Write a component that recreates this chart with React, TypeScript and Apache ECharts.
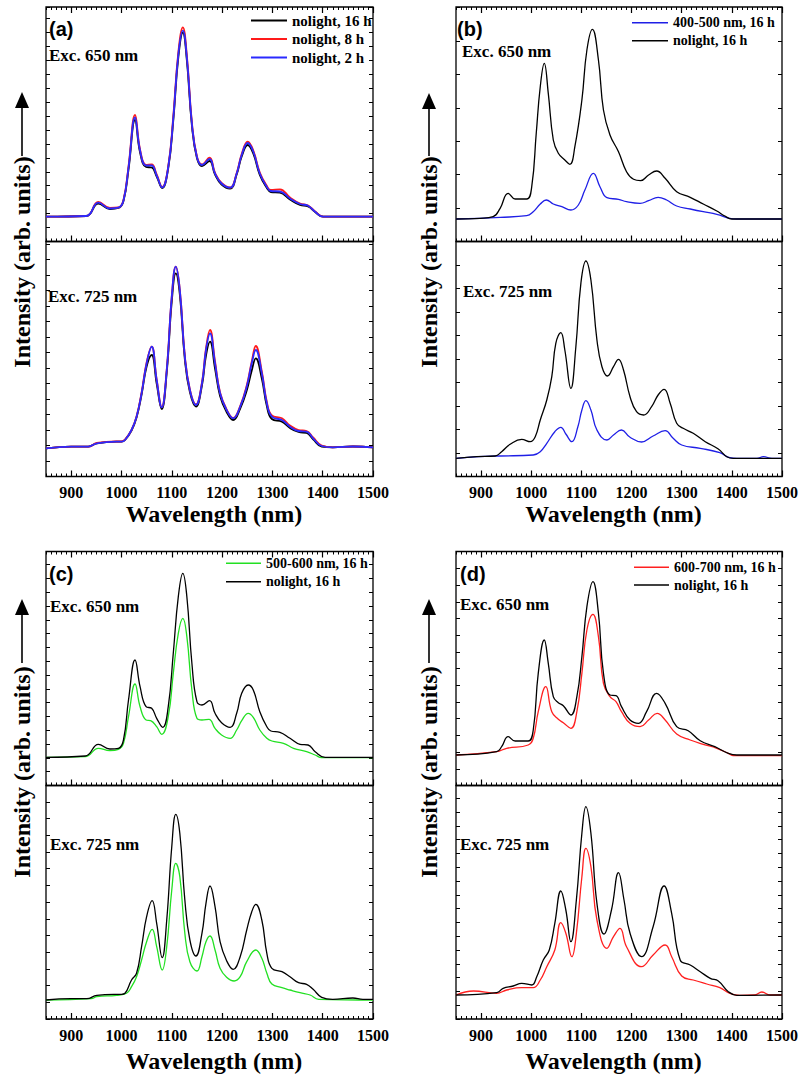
import React, { useEffect, useRef } from "react";
import * as echarts from "echarts";

const SERIF = "Liberation Serif, Times New Roman, serif";
const SANS = "Liberation Sans, Arial, sans-serif";

const X_MIN = 850;
const X_MAX = 1500;
const xTickLabels = [900, 1000, 1100, 1200, 1300, 1400, 1500];

const NOLIGHT16 = "nolight, 16 h";
const NOLIGHT8 = "nolight, 8 h";
const NOLIGHT2 = "nolight, 2 h";
const BLUE_LIGHT = "400-500 nm, 16 h";
const GREEN_LIGHT = "500-600 nm, 16 h";
const RED_LIGHT = "600-700 nm, 16 h";

// ---------- Panel (a) : Exc. 650 nm ----------
const aWl650 = [850, 930, 954, 977, 994, 1004, 1014, 1027, 1037, 1049, 1060, 1070, 1081, 1093, 1103, 1113, 1122, 1130, 1140, 1150, 1160, 1175, 1186, 1199, 1216, 1229, 1239, 1251, 1262, 1275, 1289, 1297, 1315, 1335, 1355, 1371, 1385, 1401, 1450, 1500];
const a650Nolight16 = [24.8, 25.5, 38, 32.5, 33.5, 40.5, 72, 121.5, 89, 74.5, 74, 65, 53.5, 73.5, 121, 184, 208.8, 181, 116, 83.5, 75.5, 80.5, 67, 57, 53, 67, 85, 96.5, 88, 66.5, 53.5, 49.5, 48.8, 42, 36.5, 35, 29.5, 24.8, 24.8, 24.8];
const a650Nolight8 = [24.8, 25.5, 39.5, 33.5, 34, 41.5, 75, 126.5, 92, 76.5, 77, 67, 54.5, 75, 125, 189, 214.2, 186, 119, 85, 77, 83.8, 68.5, 58.5, 54, 68.5, 87.5, 99.8, 91, 69, 55.5, 51.5, 52.2, 44, 38, 36, 30, 24.8, 24.8, 24.8];
const a650Nolight2 = [24.8, 25.5, 38.8, 33, 33.8, 41, 74, 124, 91, 76, 76, 66, 54, 74.5, 123, 187, 210.8, 184, 118, 84.5, 76.5, 82.5, 68, 58, 53.8, 68, 86.5, 98.5, 90, 68, 54.5, 50.5, 50, 43, 37.5, 35.8, 29.8, 24.8, 24.8, 24.8];

// ---------- Panel (a) : Exc. 725 nm ----------
const aWl725 = [850, 900, 934, 951, 990, 1000, 1007, 1020, 1030, 1040, 1050, 1060, 1070, 1080, 1090, 1100, 1108, 1116, 1126, 1136, 1148, 1160, 1168, 1176, 1186, 1196, 1209, 1222, 1236, 1249, 1259, 1267, 1279, 1289, 1299, 1319, 1335, 1352, 1368, 1381, 1398, 1420, 1460, 1500];
const a725Nolight16 = [28.2, 29.8, 29.8, 33.2, 34.8, 34.8, 36.5, 46, 59, 82, 110, 121.5, 93, 67.5, 104, 175, 203.2, 182, 117, 84.5, 70, 91, 121, 134.8, 108, 80.5, 64.5, 56.5, 68, 86, 106, 118.2, 98, 70.5, 57.5, 54.8, 48.5, 44.5, 43.5, 37.2, 30, 29.2, 30, 29.2];
const a725Nolight8 = [28.2, 29.8, 29.8, 33.5, 35, 35, 36.8, 46.5, 60, 84, 114, 129.8, 97, 69.5, 107, 180, 209.8, 187, 120.5, 87, 72, 94, 128, 146.5, 115, 84, 67, 58.5, 70.5, 91, 115, 130.5, 105, 74.5, 61, 58.2, 51, 46.5, 45.5, 39, 31, 29.2, 30, 29.2];
const a725Nolight2 = [28.2, 29.8, 29.8, 33.2, 34.8, 34.8, 36.5, 46.5, 59.8, 83.2, 113, 129.8, 96.5, 69.2, 106.5, 179.8, 209.8, 186.5, 119.8, 86.5, 71.5, 93.2, 126.5, 143.2, 113.2, 83.2, 66.5, 58.2, 69.8, 89.8, 113.2, 126.5, 103.2, 73.2, 59.8, 56.5, 49.8, 45.5, 44.8, 38.2, 30.5, 29.2, 30, 29.2];

// ---------- Panel (b) ----------
const b650Nolight16 = [[850, 22.5], [898, 23.2], [924, 24.8], [938, 33.2], [954, 48.2], [968, 42.5], [991, 42.5], [1001, 54.8], [1010, 108.2], [1018, 154.8], [1026, 178.2], [1034, 148.2], [1044, 101.5], [1054, 88.2], [1067, 81.5], [1077, 77.2], [1087, 94.8], [1101, 141.5], [1111, 191.5], [1122, 212.2], [1134, 181.5], [1144, 131.5], [1157, 106.5], [1174, 89.8], [1190, 69.8], [1204, 62.2], [1218, 60.8], [1234, 66.5], [1250, 70.5], [1267, 63.2], [1290, 49.8], [1317, 44.2], [1343, 37.5], [1370, 30.5], [1386, 25.5], [1400, 22.5], [1500, 22.5]];
const b650Blue = [[850, 22.5], [938, 24.2], [991, 25.8], [1004, 29.8], [1018, 37.5], [1030, 41.5], [1044, 37.5], [1061, 34.8], [1079, 31.5], [1094, 36.5], [1107, 51.5], [1124, 68.2], [1137, 54.8], [1151, 43.8], [1174, 42.2], [1190, 39.8], [1217, 38.2], [1234, 40.8], [1253, 44.2], [1270, 41.5], [1290, 35.5], [1317, 32.5], [1343, 29.8], [1370, 27.2], [1396, 23.2], [1410, 22.5], [1500, 22.5]];
const b725Nolight16 = [[850, 18.2], [891, 19.8], [928, 20.5], [941, 24.8], [958, 32.2], [981, 37.2], [998, 34.8], [1008, 39.8], [1018, 56.5], [1031, 76.5], [1041, 99.8], [1049, 133.2], [1059, 143.8], [1067, 126.5], [1079, 88.2], [1089, 129.8], [1099, 193.2], [1109, 215.5], [1119, 196.5], [1131, 136.5], [1141, 109.8], [1152, 100.5], [1164, 109.8], [1174, 117.2], [1184, 106.5], [1197, 79.8], [1210, 64.8], [1224, 61.5], [1240, 69.8], [1253, 81.5], [1265, 87.2], [1277, 73.2], [1290, 53.2], [1303, 48.2], [1323, 43.2], [1347, 34.8], [1373, 27.5], [1390, 19.8], [1403, 18.2], [1500, 18.2]];
const b725Blue = [[850, 18.2], [895, 19.8], [938, 20.5], [1004, 21.5], [1018, 24.8], [1031, 33.2], [1047, 44.8], [1059, 49.2], [1069, 42.5], [1081, 34.8], [1093, 49.8], [1101, 66.5], [1109, 75.8], [1119, 66.5], [1131, 46.5], [1151, 36.5], [1164, 41.5], [1180, 46.5], [1197, 39.2], [1220, 34.5], [1243, 40.5], [1267, 45.8], [1283, 38.2], [1300, 31.5], [1337, 28.2], [1376, 23.8], [1396, 18.8], [1410, 18.2], [1450, 18.2], [1463, 19.8], [1480, 18.2], [1500, 18.2]];

// ---------- Panel (c) ----------
const c650Nolight16 = [[850, 28.2], [928, 29.5], [954, 41.2], [977, 36.5], [994, 37.2], [1004, 45.5], [1014, 85.5], [1027, 125.5], [1037, 98.8], [1049, 78.8], [1060, 77.2], [1070, 67.2], [1082, 58.2], [1093, 78.8], [1103, 132.2], [1113, 188.8], [1122, 212.2], [1130, 188.8], [1140, 122.2], [1150, 83.8], [1160, 80.5], [1175, 84.8], [1186, 72.2], [1199, 62.8], [1216, 58.2], [1229, 72.2], [1239, 92.2], [1252, 100.5], [1262, 95.5], [1275, 73.8], [1289, 58.8], [1297, 54.5], [1315, 53.2], [1335, 47.2], [1355, 41.2], [1371, 40.5], [1385, 33.8], [1405, 28.2], [1500, 28.2]];
const c650Green = [[850, 28.2], [928, 28.8], [954, 37.2], [977, 34.8], [994, 36.2], [1004, 42.2], [1014, 68.8], [1027, 101.5], [1037, 78.8], [1049, 65.5], [1058, 64.8], [1070, 58.8], [1080, 51.2], [1093, 68.8], [1103, 112.2], [1113, 152.2], [1122, 167.2], [1130, 148.8], [1140, 95.5], [1150, 67.2], [1160, 65.5], [1174, 66.2], [1186, 57.2], [1199, 50.5], [1216, 47.2], [1229, 55.5], [1239, 64.8], [1252, 72.2], [1262, 68.2], [1275, 55.5], [1289, 47.2], [1299, 44.5], [1322, 42.2], [1342, 37.2], [1368, 33.8], [1385, 30.5], [1398, 27.8], [1500, 27.8]];
const c725Nolight16 = [[850, 19], [900, 20.3], [931, 20.3], [951, 23.7], [985, 24.7], [1000, 24.7], [1007, 25.7], [1020, 39], [1030, 45.7], [1040, 72.3], [1050, 102.3], [1061, 118.3], [1070, 95.7], [1081, 61.3], [1090, 99], [1100, 172.3], [1108, 204.7], [1116, 185.7], [1126, 119], [1136, 79], [1148, 63], [1160, 85.7], [1168, 115.7], [1176, 133], [1186, 112.3], [1196, 77.3], [1209, 58.3], [1222, 49.7], [1236, 62.3], [1249, 89], [1259, 107.3], [1267, 114.7], [1279, 99], [1289, 65.7], [1299, 50.7], [1319, 47.3], [1335, 42.3], [1352, 36.3], [1368, 34.7], [1381, 29.7], [1398, 21.7], [1420, 19.7], [1460, 21], [1480, 19.7], [1500, 19.7]];
const c725Green = [[850, 19], [940, 20.3], [951, 22.3], [990, 23.7], [1010, 25.7], [1020, 32.3], [1030, 42.3], [1040, 59], [1050, 77.3], [1061, 89.7], [1070, 72.3], [1081, 49], [1090, 72.3], [1100, 129], [1108, 155.7], [1116, 142.3], [1126, 85.7], [1136, 57.3], [1150, 48], [1160, 62.3], [1168, 77.3], [1176, 83], [1186, 69], [1196, 50.7], [1209, 41.7], [1224, 38], [1236, 42.3], [1249, 57.3], [1267, 69], [1279, 60.7], [1289, 45.7], [1299, 35], [1319, 31.3], [1335, 29], [1355, 26.3], [1375, 24], [1392, 19.7], [1500, 19]];

// ---------- Panel (d) ----------
const d650Nolight16 = [[850, 30.5], [931, 33.8], [941, 38.8], [954, 48.8], [968, 44.5], [994, 44.5], [1004, 55.5], [1014, 112.2], [1026, 145.5], [1034, 122.2], [1044, 88.8], [1054, 82.8], [1064, 79.8], [1079, 70.5], [1091, 88.8], [1101, 128.8], [1111, 178.8], [1123, 203.8], [1134, 172.2], [1144, 112.2], [1157, 90.5], [1169, 89.8], [1180, 78.8], [1197, 65.5], [1214, 62.2], [1230, 73.8], [1250, 92.2], [1267, 82.2], [1290, 58.8], [1313, 54.8], [1337, 44.8], [1366, 38.8], [1393, 32.2], [1410, 30.5], [1500, 30.5]];
const d650Red = [[850, 30.5], [931, 33.8], [951, 37.2], [994, 40.5], [1004, 47.2], [1014, 73.8], [1029, 98.8], [1041, 73.8], [1054, 66.2], [1064, 62.8], [1079, 57.2], [1091, 73.8], [1101, 112.2], [1111, 155.5], [1123, 171.2], [1134, 148.8], [1144, 102.2], [1157, 88.8], [1169, 83.8], [1180, 73.8], [1197, 62.2], [1217, 58.8], [1234, 65.5], [1251, 72.2], [1267, 65.5], [1290, 51.5], [1317, 45.5], [1343, 41.2], [1370, 37.2], [1393, 32.2], [1403, 29.8], [1500, 29.8]];
const d725Nolight16 = [[850, 24], [931, 26.3], [944, 30.7], [964, 33], [981, 35.7], [1001, 34], [1011, 42.3], [1024, 59], [1036, 69], [1047, 95.7], [1059, 128], [1069, 109], [1079, 77.3], [1090, 119], [1101, 185.7], [1109, 212.3], [1119, 185.7], [1131, 115.7], [1145, 85], [1160, 109], [1174, 146.3], [1185, 119], [1197, 85.7], [1220, 62.3], [1243, 92.3], [1265, 133], [1280, 105.7], [1297, 59], [1317, 54], [1337, 47.3], [1357, 40.7], [1373, 38], [1393, 27.3], [1410, 23.7], [1500, 24]];
const d725Red = [[850, 24], [885, 28], [931, 25.7], [951, 29], [981, 31.3], [1004, 31.3], [1018, 39], [1031, 52.3], [1047, 69], [1059, 96.3], [1069, 85.7], [1081, 62.3], [1090, 85.7], [1101, 142.3], [1109, 170.7], [1119, 152.3], [1131, 99], [1151, 70.7], [1164, 82.3], [1177, 90.7], [1190, 72.3], [1220, 52.3], [1243, 64], [1267, 74], [1280, 62.3], [1300, 43], [1323, 39], [1350, 35], [1376, 31.3], [1396, 25.7], [1416, 23.7], [1445, 24], [1460, 27], [1476, 24], [1500, 24]];

const pair = (xs: number[], ys: number[]) => xs.map((x, i) => [x, ys[i]]);

const BLACK = "#000000";
const RED = "#ff1a1a";
const BLUE = "#2a2aff";
const BLUE_B = "#1f1fe6";
const GREEN = "#22e022";
const RED_D = "#ff2020";

type S = { name: string; color: string; width: number; data: number[][] };
type G = { left: number; top: number; width: number; height: number; lower: boolean; topRow: boolean; yInterval: number; series: S[] };

const grids: G[] = [
  { left: 46, top: 7, width: 327, height: 234.5, lower: false, topRow: true, yInterval: 13.95, series: [
    { name: NOLIGHT16, color: BLACK, width: 1.8, data: pair(aWl650, a650Nolight16) },
    { name: NOLIGHT8, color: RED, width: 1.8, data: pair(aWl650, a650Nolight8) },
    { name: NOLIGHT2, color: BLUE, width: 1.8, data: pair(aWl650, a650Nolight2) },
  ] },
  { left: 46, top: 241.5, width: 327, height: 235, lower: true, topRow: true, yInterval: 15.5, series: [
    { name: NOLIGHT16, color: BLACK, width: 1.8, data: pair(aWl725, a725Nolight16) },
    { name: NOLIGHT8, color: RED, width: 1.8, data: pair(aWl725, a725Nolight8) },
    { name: NOLIGHT2, color: BLUE, width: 1.8, data: pair(aWl725, a725Nolight2) },
  ] },
  { left: 456, top: 7, width: 326, height: 234.5, lower: false, topRow: true, yInterval: 33.4, series: [
    { name: BLUE_LIGHT, color: BLUE_B, width: 1.3, data: b650Blue },
    { name: NOLIGHT16, color: BLACK, width: 1.3, data: b650Nolight16 },
  ] },
  { left: 456, top: 241.5, width: 326, height: 235, lower: true, topRow: true, yInterval: 23.5, series: [
    { name: BLUE_LIGHT, color: BLUE_B, width: 1.3, data: b725Blue },
    { name: NOLIGHT16, color: BLACK, width: 1.3, data: b725Nolight16 },
  ] },
  { left: 46, top: 551.5, width: 327, height: 234, lower: false, topRow: false, yInterval: 13.8, series: [
    { name: GREEN_LIGHT, color: GREEN, width: 1.3, data: c650Green },
    { name: NOLIGHT16, color: BLACK, width: 1.3, data: c650Nolight16 },
  ] },
  { left: 46, top: 785.5, width: 327, height: 233.5, lower: true, topRow: false, yInterval: 16.7, series: [
    { name: GREEN_LIGHT, color: GREEN, width: 1.3, data: c725Green },
    { name: NOLIGHT16, color: BLACK, width: 1.3, data: c725Nolight16 },
  ] },
  { left: 456, top: 551.5, width: 326, height: 234, lower: false, topRow: false, yInterval: 16.7, series: [
    { name: RED_LIGHT, color: RED_D, width: 1.3, data: d650Red },
    { name: NOLIGHT16, color: BLACK, width: 1.3, data: d650Nolight16 },
  ] },
  { left: 456, top: 785.5, width: 326, height: 233.5, lower: true, topRow: false, yInterval: 13.8, series: [
    { name: RED_LIGHT, color: RED_D, width: 1.3, data: d725Red },
    { name: NOLIGHT16, color: BLACK, width: 1.3, data: d725Nolight16 },
  ] },
];

function buildOption() {
  const grid: any[] = [];
  const xAxis: any[] = [];
  const yAxis: any[] = [];
  const series: any[] = [];

  const minorX = (gi: number, pos: string, labels: boolean, namePad?: number[], nameGap = 30) => ({
    gridIndex: gi, type: "value", position: pos, min: X_MIN, max: X_MAX, interval: 10,
    axisLine: { show: false, onZero: false },
    axisTick: { show: true, inside: true, length: 3, lineStyle: { color: "#000", width: 1 } },
    axisLabel: labels
      ? { show: true, customValues: xTickLabels, formatter: (v: number) => String(v), margin: 8, color: "#000", fontFamily: SERIF, fontWeight: "bold", fontSize: 16 }
      : { show: false },
    splitLine: { show: false },
    ...(labels
      ? { name: "Wavelength (nm)", nameLocation: "middle", nameGap,
          nameTextStyle: { color: "#000", fontFamily: SERIF, fontWeight: "bold", fontSize: 24, padding: namePad } }
      : {}),
  });
  const majorX = (gi: number, pos: string) => ({
    gridIndex: gi, type: "value", position: pos, min: X_MIN, max: X_MAX,
    axisLine: { show: false, onZero: false },
    axisTick: { show: true, inside: true, length: 6, customValues: xTickLabels, lineStyle: { color: "#000", width: 1.2 } },
    axisLabel: { show: false },
    splitLine: { show: false },
  });
  const yAx = (gi: number, pos: string, g: G) => ({
    gridIndex: gi, type: "value", position: pos, min: 0, max: g.height, interval: g.yInterval,
    axisLine: { show: false, onZero: false },
    axisTick: { show: true, inside: true, length: 4, lineStyle: { color: "#000", width: 1 } },
    axisLabel: { show: false },
    splitLine: { show: false },
  });

  grids.forEach((g, gi) => {
    grid.push({ left: g.left, top: g.top, width: g.width, height: g.height, show: true, borderColor: "#000", borderWidth: 1.3, backgroundColor: "transparent" });
    const xi = xAxis.length;
    const pad = g.left < 200 ? [0, 0, 0, 9] : [0, 11, 0, 0];
    xAxis.push(minorX(gi, "bottom", g.lower, pad, g.topRow ? 25 : 30));
    xAxis.push(majorX(gi, "bottom"));
    if (!g.lower) {
      xAxis.push(minorX(gi, "top", false));
      xAxis.push(majorX(gi, "top"));
    }
    const yi = yAxis.length;
    yAxis.push(yAx(gi, "left", g));
    yAxis.push(yAx(gi, "right", g));
    g.series.forEach((s) => {
      series.push({
        type: "line", name: s.name, xAxisIndex: xi, yAxisIndex: yi, data: s.data,
        symbol: "none", showSymbol: false, smooth: 0.45, silent: true,
        lineStyle: { color: s.color, width: s.width }, itemStyle: { color: s.color },
      });
    });
  });

  const legendText = (size: number) => ({ color: "#000", fontFamily: SERIF, fontWeight: "bold", fontSize: size, lineHeight: 14 });
  const common = { orient: "vertical", icon: "rect", padding: 0, selectedMode: false };
  const legend = [
    { ...common, left: 251, top: 13, itemWidth: 36, itemHeight: 2, itemGap: 3.5, textStyle: legendText(15), data: [NOLIGHT16, NOLIGHT8, NOLIGHT2] },
    { ...common, left: 632, top: 15.7, itemWidth: 36, itemHeight: 1.4, itemGap: 4, textStyle: legendText(14), data: [BLUE_LIGHT, NOLIGHT16] },
    { ...common, left: 226, top: 556.3, itemWidth: 35, itemHeight: 1.4, itemGap: 4.4, textStyle: legendText(14), data: [GREEN_LIGHT, NOLIGHT16] },
    { ...common, left: 634, top: 560.3, itemWidth: 35, itemHeight: 1.4, itemGap: 3.7, textStyle: legendText(14), data: [RED_LIGHT, NOLIGHT16] },
  ];

  const txt = (text: string, x: number, y: number, font: string, align = "left", rotation = 0) => ({
    type: "text", x, y, rotation, silent: true,
    style: { text, font, fill: "#000", align, verticalAlign: "middle", textAlign: align, textVerticalAlign: "middle" },
  });
  const excFont = `bold 17px ${SERIF}`;
  const panelFont = `bold 20px ${SANS}`;
  const yFont = `bold 24px ${SERIF}`;

  const yLabels = [
    { x: 22, textY: 262, lineTop: 107, lineBottom: 156, headTop: 92 },
    { x: 429, textY: 262, lineTop: 107, lineBottom: 156, headTop: 93 },
    { x: 22, textY: 772, lineTop: 614, lineBottom: 663, headTop: 599 },
    { x: 429, textY: 772, lineTop: 614, lineBottom: 663, headTop: 599 },
  ];

  const graphic: any[] = [
    txt("(a)", 49, 28.5, panelFont),
    txt("(b)", 457, 28.5, panelFont),
    txt("(c)", 49, 574, panelFont),
    txt("(d)", 460, 574, panelFont),
    txt("Exc. 650 nm", 49, 55, excFont),
    txt("Exc. 725 nm", 48, 296.5, excFont),
    txt("Exc. 650 nm", 462, 51.5, excFont),
    txt("Exc. 725 nm", 463, 291.5, excFont),
    txt("Exc. 650 nm", 50, 606.5, excFont),
    txt("Exc. 725 nm", 50, 844.5, excFont),
    txt("Exc. 650 nm", 460, 604.5, excFont),
    txt("Exc. 725 nm", 460, 844.5, excFont),
  ];
  yLabels.forEach((l) => {
    graphic.push(txt("Intensity (arb. units)", l.x, l.textY, yFont, "center", Math.PI / 2));
    graphic.push({ type: "line", silent: true, shape: { x1: l.x, y1: l.lineBottom, x2: l.x, y2: l.lineTop }, style: { stroke: "#000", lineWidth: 1.6 } });
    graphic.push({ type: "polygon", silent: true, shape: { points: [[l.x, l.headTop], [l.x - 7, l.headTop + 16], [l.x + 7, l.headTop + 16]] }, style: { fill: "#000" } });
  });

  return { animation: false, backgroundColor: "#ffffff", grid, xAxis, yAxis, series, legend, graphic };
}

export default function App() {
  const ref = useRef<HTMLDivElement>(null);
  useEffect(() => {
    document.body.style.margin = "0";
    if (!ref.current) return;
    const chart = echarts.init(ref.current, undefined, { renderer: "svg" });
    chart.setOption(buildOption() as any);
    return () => chart.dispose();
  }, []);
  return <div ref={ref} style={{ position: "absolute", left: 0, top: 0, width: 803, height: 1077, background: "#fff" }} />;
}
